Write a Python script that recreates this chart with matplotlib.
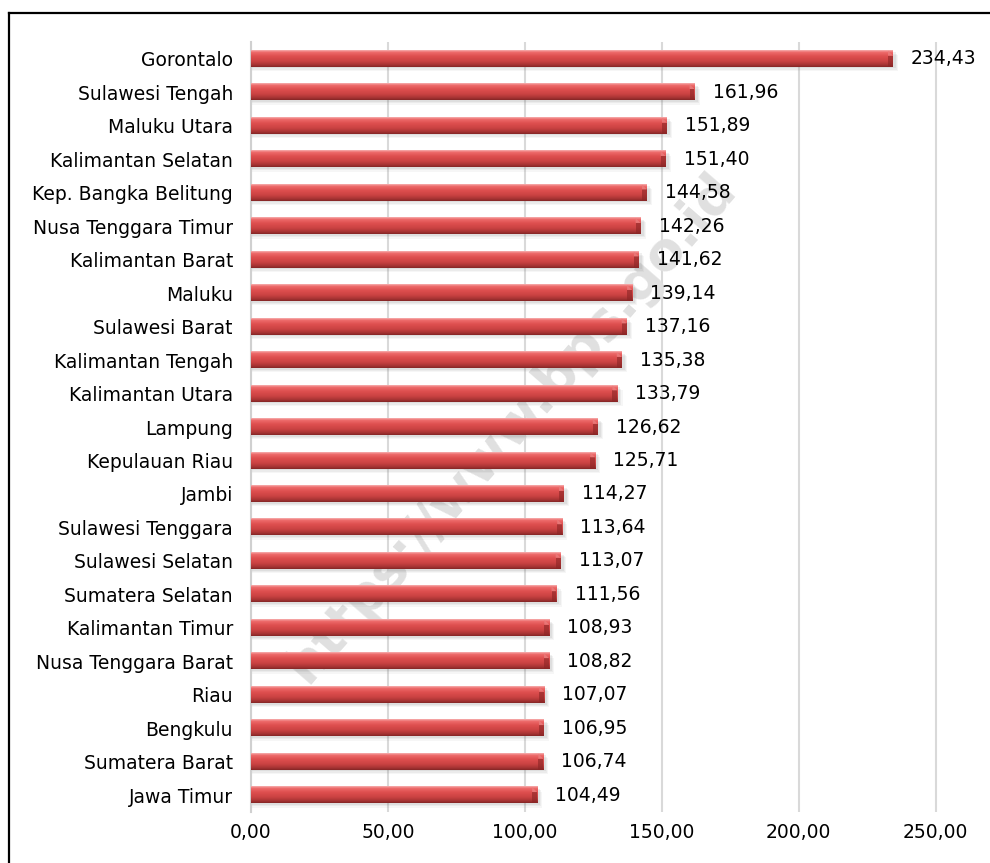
import numpy as np
import matplotlib.pyplot as plt
from matplotlib.colors import LinearSegmentedColormap
from matplotlib.patches import Rectangle, Polygon
from matplotlib.lines import Line2D

provinces = ["Gorontalo", "Sulawesi Tengah", "Maluku Utara", "Kalimantan Selatan",
             "Kep. Bangka Belitung", "Nusa Tenggara Timur", "Kalimantan Barat", "Maluku",
             "Sulawesi Barat", "Kalimantan Tengah", "Kalimantan Utara", "Lampung",
             "Kepulauan Riau", "Jambi", "Sulawesi Tenggara", "Sulawesi Selatan",
             "Sumatera Selatan", "Kalimantan Timur", "Nusa Tenggara Barat", "Riau",
             "Bengkulu", "Sumatera Barat", "Jawa Timur"]
values = [234.43, 161.96, 151.89, 151.40, 144.58, 142.26, 141.62, 139.14, 137.16,
          135.38, 133.79, 126.62, 125.71, 114.27, 113.64, 113.07, 111.56, 108.93,
          108.82, 107.07, 106.95, 106.74, 104.49]
xticks = [0, 50, 100, 150, 200, 250]


def fmt(v):
    return f"{v:.2f}".replace(".", ",")


plt.rcParams["font.family"] = ["DejaVu Sans"]
fig = plt.figure(figsize=(9.9, 8.63), dpi=100)
ax = fig.add_axes([0.2535, 0.0591, 0.7192, 0.8922])

# vertical shading for the cylinder look, top row first
bar_cmap = LinearSegmentedColormap.from_list(
    "cyl", [(0.0, "#f6b0b0"), (0.12, "#ee6b6b"), (0.35, "#df5050"),
            (0.65, "#cb4242"), (0.88, "#a53333"), (1.0, "#842626")])
grad = np.linspace(0, 1, 64).reshape(-1, 1)

n = len(values)
h = 0.48
for i, v in enumerate(values):
    y = n - 1 - i
    # soft shadow under the bar
    for k, a in enumerate([0.09, 0.07, 0.05]):
        off = 0.05 + 0.04 * k
        ax.add_patch(Rectangle((0.5, y - h / 2 - off), v + 0.6 + 0.4 * k, h,
                               facecolor="#606060", alpha=a, lw=0, zorder=2))
    ax.imshow(grad, extent=[0, v, y - h / 2, y + h / 2], origin="upper",
              aspect="auto", cmap=bar_cmap, zorder=3, interpolation="bilinear")
    # bevelled right end
    cap = 1.8
    ax.add_patch(Polygon([(v - cap, y + h / 2 - h * 0.3), (v, y + h / 2 - h * 0.3),
                          (v, y - h / 2), (v - cap, y - h / 2)],
                         closed=True, facecolor="#8a2525", alpha=0.6, lw=0, zorder=4))
    ax.add_patch(Polygon([(v - cap, y + h / 2), (v, y + h / 2 - h * 0.3),
                          (v - cap, y + h / 2 - h * 0.3)],
                         closed=True, facecolor="#e97a7a", alpha=0.9, lw=0, zorder=4))
    ax.annotate(fmt(v), (v, y), xytext=(13, 0), textcoords="offset points",
                ha="left", va="center", fontsize=13.5, color="black", zorder=6)

ax.set_xlim(0, 260)
ax.set_ylim(-0.5, n - 0.5)
ax.set_yticks(range(n))
ax.set_yticklabels(provinces[::-1], fontsize=13.5)
ax.set_xticks(xticks)
ax.set_xticklabels([fmt(t) for t in xticks], fontsize=13.5)
ax.tick_params(length=0)
ax.tick_params(axis="x", pad=8)
ax.tick_params(axis="y", pad=13)
ax.grid(axis="x", color="#d9d9d9", lw=1.5, zorder=0)
ax.set_axisbelow(True)
for s in ["top", "right", "bottom"]:
    ax.spines[s].set_visible(False)
ax.spines["left"].set_color("#d0d0d0")
ax.spines["left"].set_linewidth(1.5)

# watermark behind the bars
ax.text(0.365, 0.50, "https://www.bps.go.id", transform=ax.transAxes,
        rotation=49, ha="center", va="center", fontsize=38, fontweight="bold",
        color="#e0e0e0", zorder=1)

# outer frame
fig.add_artist(Line2D([9 / 990, 9 / 990], [0, 1 - 13 / 863], color="black", lw=1.6,
                      transform=fig.transFigure))
fig.add_artist(Line2D([9 / 990, 1], [1 - 13 / 863, 1 - 13 / 863], color="black", lw=1.6,
                      transform=fig.transFigure))

fig.savefig("out.png", dpi=100)
